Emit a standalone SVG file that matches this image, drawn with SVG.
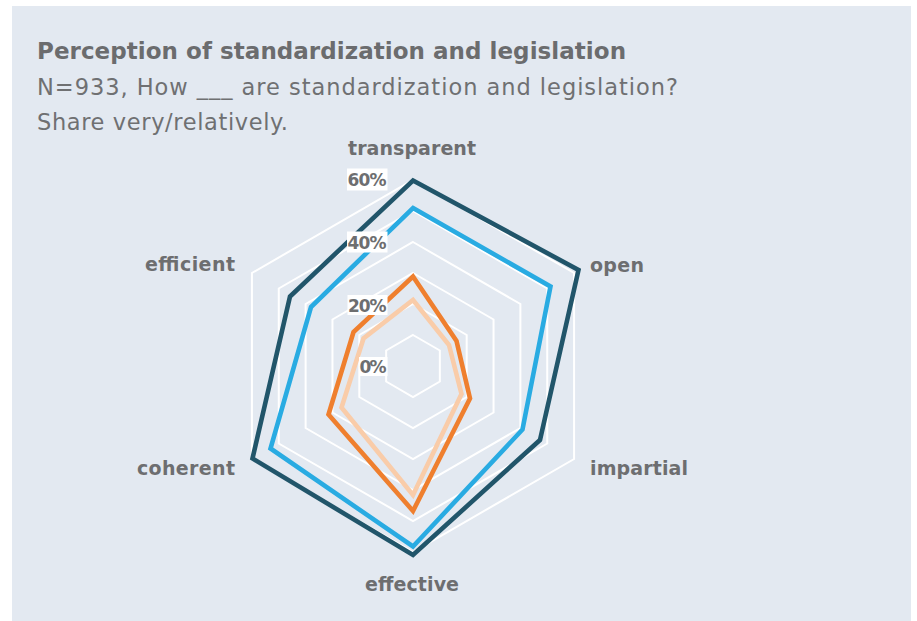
<svg xmlns="http://www.w3.org/2000/svg" width="917" height="621" viewBox="0 0 917 621">
<style>
.title{font-family:"DejaVu Sans","Liberation Sans",sans-serif;font-weight:bold;font-size:23px;fill:#6b6c6e}
.sub{font-family:"DejaVu Sans","Liberation Sans",sans-serif;font-weight:normal;font-size:22.5px;fill:#6f7072}
.ax{font-family:"DejaVu Sans","Liberation Sans",sans-serif;font-weight:bold;font-size:19px;fill:#6d6e70}
.val{font-family:"DejaVu Sans","Liberation Sans",sans-serif;font-weight:bold;font-size:17px;fill:#6d6e70;text-anchor:end}
.grid{fill:none;stroke:#ffffff;stroke-width:2}
.s{fill:none;stroke-width:4.6;stroke-linejoin:miter}
.box{fill:#ffffff}
</style>
<rect x="0" y="0" width="917" height="621" fill="#ffffff"/>
<rect x="12" y="6" width="899" height="615" fill="#e3e9f1"/>
<g id="title">
<text class="title" x="37" y="59" textLength="589">Perception of standardization and legislation</text>
<text class="sub" x="37" y="95" textLength="641">N=933, How ___ are standardization and legislation?</text>
<text class="sub" x="37" y="130" textLength="251">Share very/relatively.</text>
</g>
<g id="grid">
<polygon class="grid" points="413,335 439.85,350.5 439.85,381.5 413,397 386.15,381.5 386.15,350.5"/>
<polygon class="grid" points="413,304 466.69,335 466.69,397 413,428 359.31,397 359.31,335"/>
<polygon class="grid" points="413,273 493.54,319.5 493.54,412.5 413,459 332.46,412.5 332.46,319.5"/>
<polygon class="grid" points="413,242 520.39,304 520.39,428 413,490 305.61,428 305.61,304"/>
<polygon class="grid" points="413,211 547.23,288.5 547.23,443.5 413,521 278.77,443.5 278.77,288.5"/>
<polygon class="grid" points="413,180 574.08,273 574.08,459 413,552 251.92,459 251.92,273"/>
</g>
<g id="connectors">
<polygon id="series-dark" class="s" stroke="#21556a" stroke-width="5" points="413,180.5 578.5,270 540,440 413,555 252.5,458.5 290,296.5"/>
<polygon id="series-blue" class="s" stroke="#29abe2" points="413,208 550.5,286.5 522.5,429.5 413,546.5 270.5,448.5 311,307"/>
<polygon id="series-orange" class="s" stroke="#ef7f2e" points="413,276.5 456.5,341 470,398.5 413,511 328.5,414.5 353.5,332"/>
<polygon id="series-light" class="s" stroke="#f9cca9" points="413,300 449,345 461.5,394 413,495 341.5,407.5 363.5,338.5"/>
</g>
<g id="value-labels">
<g id="v60"><rect class="box" x="347" y="168.5" width="40.5" height="22"/><text class="val" x="386.5" y="186" textLength="39">60%</text></g>
<g id="v40"><rect class="box" x="347" y="231.5" width="40.5" height="21"/><text class="val" x="386.5" y="248.5" textLength="39">40%</text></g>
<g id="v20"><rect class="box" x="347.5" y="295" width="40" height="20"/><text class="val" x="386.5" y="311.5" textLength="38.5">20%</text></g>
<g id="v0"><rect class="box" x="359" y="357" width="28.5" height="19"/><text class="val" x="386.5" y="373" textLength="27">0%</text></g>
</g>
<g id="axis-labels">
<g id="transparent"><text class="ax" x="412" y="155" text-anchor="middle" textLength="128">transparent</text></g>
<g id="open"><text class="ax" x="590" y="271.5" textLength="54">open</text></g>
<g id="impartial"><text class="ax" x="590" y="475" textLength="98">impartial</text></g>
<g id="effective"><text class="ax" x="412" y="590.5" text-anchor="middle" textLength="94">effective</text></g>
<g id="coherent"><text class="ax" x="235" y="475" text-anchor="end" textLength="98">coherent</text></g>
<g id="efficient"><text class="ax" x="235" y="271" text-anchor="end" textLength="90">efficient</text></g>
</g>
</svg>
